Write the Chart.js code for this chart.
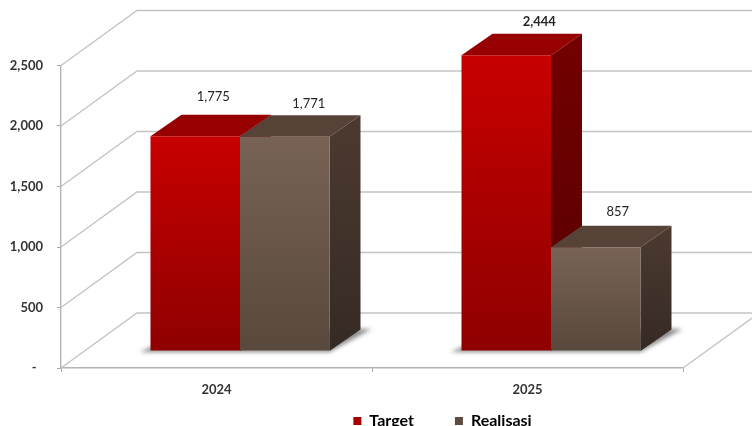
<!DOCTYPE html>
<html>
<head>
<meta charset="utf-8">
<style>
  body { margin: 0; background: #fff; }
  canvas { display: block; }
</style>
<script src="https://cdn.jsdelivr.net/npm/chart.js@4/dist/chart.umd.min.js"></script>
</head>
<body>
<canvas id="grafik" width="752" height="426"></canvas>
<script>
const categories = ["2024", "2025"];
const target = [1775, 2444];
const realisasi = [1771, 857];
const tickValues = [0, 500, 1000, 1500, 2000, 2500];

// offset of the value labels from the middle of each bar's front top edge
const labelShift = {
  target: [[18, -39], [33, -33]],
  realisasi: [[24, -33], [22, -35]]
};

// perspective of the room and of the bars
const room = { dx: 76, dy: -55 };
const floorShift = { dx: 23.5, dy: -17 };
const depth = { dx: 31, dy: -21.5 };

const redFaces = { top: "#c80000", bottom: "#8e0000", lid: "#960000", sideTop: "#730000", sideBottom: "#560000" };
const brownFaces = { top: "#786256", bottom: "#59483c", lid: "#574238", sideTop: "#4c3a30", sideBottom: "#352a24" };
const gridColor = "#c4c4c4";
const font = "Lato";

function frontFill(faces) {
  return function (c) {
    const y = c.chart.scales.y;
    if (!y || c.raw === undefined) return faces.top;
    const g = c.chart.ctx.createLinearGradient(0, y.getPixelForValue(c.raw), 0, y.getPixelForValue(0));
    g.addColorStop(0, faces.top);
    g.addColorStop(1, faces.bottom);
    return g;
  };
}

function poly(ctx, pts, fill) {
  ctx.beginPath();
  pts.forEach((p, i) => (i ? ctx.lineTo(p[0], p[1]) : ctx.moveTo(p[0], p[1])));
  ctx.closePath();
  ctx.fillStyle = fill;
  ctx.fill();
}

// lid and side of every bar in one dataset, in the shifted floor position
function drawFaces(chart, index, faces) {
  const { ctx } = chart;
  const base = chart.scales.y.getPixelForValue(0);
  ctx.save();
  ctx.translate(floorShift.dx, floorShift.dy);
  chart.getDatasetMeta(index).data.forEach(bar => {
    const l = bar.x - bar.width / 2, r = bar.x + bar.width / 2;
    poly(ctx, [[l, bar.y], [r, bar.y], [r + depth.dx, bar.y + depth.dy], [l + depth.dx, bar.y + depth.dy]], faces.lid);
    const g = ctx.createLinearGradient(0, bar.y + depth.dy, 0, base);
    g.addColorStop(0, faces.sideTop);
    g.addColorStop(1, faces.sideBottom);
    poly(ctx, [[r, bar.y], [r + depth.dx, bar.y + depth.dy], [r + depth.dx, base + depth.dy], [r, base]], g);
  });
  ctx.restore();
}

const room3d = {
  id: "room3d",
  afterLayout(chart) {
    // legend sits right of the canvas middle in the original
    const lg = chart.legend;
    lg.left += 101;
    lg.right += 101;
    lg.top = 413 - lg.options.labels.padding;
  },
  beforeDatasetsDraw(chart) {
    const { ctx, scales: { x, y } } = chart;
    const left = x.left, right = x.right, end = chart.width;
    ctx.save();

    // walls: each value runs back along the side wall, then across the back
    ctx.strokeStyle = gridColor;
    ctx.lineWidth = 1.4;
    tickValues.forEach(v => {
      const py = y.getPixelForValue(v);
      ctx.beginPath();
      ctx.moveTo(left, py);
      ctx.lineTo(left + room.dx, py + room.dy);
      ctx.lineTo(end, py + room.dy);
      ctx.stroke();
    });

    // right edge of the floor
    const base = y.getPixelForValue(0);
    ctx.beginPath();
    ctx.moveTo(right, base);
    ctx.lineTo(right + room.dx, base + room.dy);
    ctx.stroke();

    // soft shadow on the floor under each pair of bars
    const metaA = chart.getDatasetMeta(0), metaB = chart.getDatasetMeta(1);
    const by = base + floorShift.dy;
    ctx.filter = "blur(2px)";
    categories.forEach((_, i) => {
      const a = metaA.data[i], b = metaB.data[i];
      const l = a.x - a.width / 2 + floorShift.dx, r = b.x + b.width / 2 + floorShift.dx;
      poly(ctx, [[l - 11, by + 1], [r, by + 1], [r + 42, by - 22], [r + 20, by - 22], [l + 10, by - 8]], "rgba(60,60,60,0.6)");
    });
    ctx.restore();

    // Chart.js paints Target over Realisasi, so Target's lid and side go first:
    // the neighbouring brown bar has to cover them
    drawFaces(chart, 0, redFaces);
  },
  beforeDatasetDraw(chart, args) {
    if (args.index === 1) drawFaces(chart, 1, brownFaces);
    chart.ctx.save();
    chart.ctx.translate(floorShift.dx, floorShift.dy);
  },
  afterDatasetDraw(chart) {
    chart.ctx.restore();
  },
  afterDatasetsDraw(chart) {
    const { ctx } = chart;
    const shifts = [labelShift.target, labelShift.realisasi];
    ctx.save();
    ctx.textAlign = "center";
    ctx.textBaseline = "middle";
    ctx.fillStyle = "#262626";
    chart.data.datasets.forEach((ds, d) => {
      chart.getDatasetMeta(d).data.forEach((bar, i) => {
        ctx.font = (ds.data[i] === 2444 ? "bold " : "") + "13px " + font;
        ctx.fillText(ds.data[i].toLocaleString("en-US"),
          bar.x + floorShift.dx + shifts[d][i][0],
          bar.y + floorShift.dy + shifts[d][i][1]);
      });
    });
    ctx.restore();
  }
};

new Chart(document.getElementById("grafik"), {
  type: "bar",
  data: {
    labels: categories,
    datasets: [
      { label: "Target", data: target, backgroundColor: frontFill(redFaces), clip: false },
      { label: "Realisasi", data: realisasi, backgroundColor: frontFill(brownFaces), clip: false }
    ]
  },
  plugins: [room3d],
  options: {
    responsive: false,
    animation: false,
    categoryPercentage: 0.5756,
    barPercentage: 1,
    layout: { padding: { top: 65.5, right: 69, left: 0, bottom: 0 } },
    plugins: {
      tooltip: { enabled: false },
      legend: {
        position: "bottom",
        maxHeight: 20,
        labels: {
          boxWidth: 8,
          boxHeight: 8,
          padding: 41,
          color: "#333",
          font: { family: font, size: 16, weight: "bold" },
          generateLabels() {
            return [
              { text: "Target", fillStyle: "#a80000", strokeStyle: "#a80000", lineWidth: 0, datasetIndex: 0 },
              { text: "Realisasi", fillStyle: "#5f4c40", strokeStyle: "#5f4c40", lineWidth: 0, datasetIndex: 1 }
            ];
          }
        }
      }
    },
    scales: {
      x: {
        grid: { drawOnChartArea: false, tickLength: 4, color: "#a8a8a8" },
        border: { color: "#b4b4b4", width: 1.4 },
        ticks: { color: "#333", padding: 10, font: { family: font, size: 13, weight: "bold" } },
        afterFit(s) { s.height = 38; }
      },
      y: {
        min: 0,
        max: 2500,
        afterBuildTicks(s) { s.ticks = tickValues.map(v => ({ value: v })); },
        grid: { drawOnChartArea: false, tickLength: 4, color: "#a8a8a8" },
        border: { color: "#b4b4b4", width: 1.4 },
        ticks: {
          color: "#333",
          padding: 14,
          font: { family: font, size: 13, weight: "bold" },
          callback: v => (v === 0 ? "-  " : v.toLocaleString("en-US"))
        },
        afterFit(s) { s.width = 61; }
      }
    }
  }
});
</script>
</body>
</html>
